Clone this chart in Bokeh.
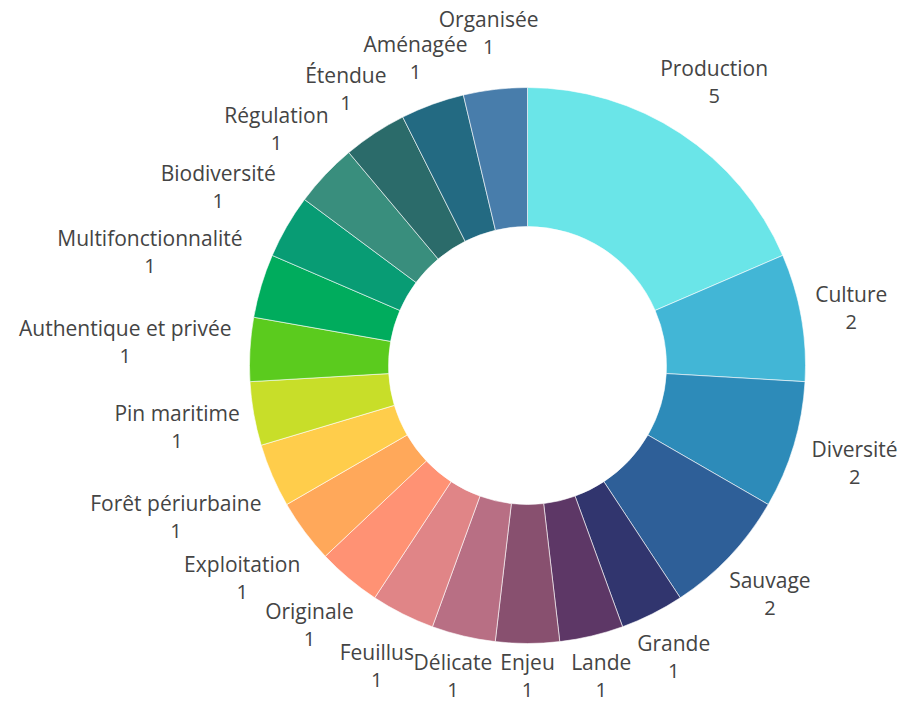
import math
from bokeh.plotting import figure
from bokeh.models import ColumnDataSource, Range1d
from bokeh.core.properties import value
from bokeh.embed import file_html
from bokeh.resources import INLINE

categories = ["Production", "Culture", "Diversité", "Sauvage", "Grande", "Lande", "Enjeu",
              "Délicate", "Feuillus", "Originale", "Exploitation", "Forêt périurbaine",
              "Pin maritime", "Authentique et privée", "Multifonctionnalité", "Biodiversité",
              "Régulation", "Étendue", "Aménagée", "Organisée"]
counts = [5, 2, 2, 2, 1, 1, 1, 1, 1, 1, 1, 1, 1, 1, 1, 1, 1, 1, 1, 1]
colors = ["#6ae5e8", "#42b6d6", "#2d8bb9", "#2e5f98", "#31356e", "#5d3766", "#88506f",
          "#b86f84", "#e08587", "#ff9274", "#ffa85a", "#ffcd4b", "#c8de29", "#5bcb1e",
          "#00ac5d", "#089c74", "#398e7d", "#2b6b6a", "#236a82", "#487dab"]

W, H = 899, 704
CX, CY = 527, 365          # centre of the donut in page pixels (from top-left)
R_OUT, R_IN = 278, 139
FS = 21
CHAR_W = 11.0
LINE = 28
FONT = "Open Sans"

total = sum(counts)
starts, ends, xs_n, ys_n, xs_v, ys_v, vals = [], [], [], [], [], [], []
boxes = []
cum = 0
y_floor = -(H - CY) + 15
for cat, c in zip(categories, counts):
    a0 = cum / total * 2 * math.pi
    a1 = (cum + c) / total * 2 * math.pi
    cum += c
    starts.append(math.pi / 2 - a0)
    ends.append(math.pi / 2 - a1)
    th = (a0 + a1) / 2
    s, co = math.sin(th), math.cos(th)
    w = CHAR_W * len(cat)
    r = R_OUT + 8 + (w / 2) * abs(s) + LINE * abs(co)
    # push outward while overlapping an already placed label
    for _ in range(60):
        lx, ly = r * s, r * co
        hit = False
        for (bx, by, bw) in boxes:
            if abs(lx - bx) < (w + bw) / 2 - 12 and abs(ly - by) < 24:
                hit = True
                break
        if not hit:
            break
        r += 1
    boxes.append((lx, ly, w))
    ly = max(ly, y_floor + LINE / 2)
    xs_n.append(lx); ys_n.append(ly + LINE / 2)
    xs_v.append(lx); ys_v.append(ly - LINE / 2)
    vals.append(str(c))

src = ColumnDataSource(dict(cat=categories, cnt=counts, color=colors,
                            start=starts, end=ends))

p = figure(width=W, height=H, output_backend="svg", toolbar_location=None,
           x_range=Range1d(-CX, W - CX), y_range=Range1d(-(H - CY), CY),
           min_border=0)
p.axis.visible = False
p.grid.visible = False
p.outline_line_color = None
p.background_fill_color = "white"

p.annular_wedge(x=0, y=0, inner_radius=R_IN, outer_radius=R_OUT,
                start_angle="start", end_angle="end", direction="clock",
                fill_color="color", line_color="white", line_width=0.6,
                source=src)

p.text(x=xs_n, y=ys_n, text=categories, text_align="center", text_baseline="middle",
       text_font=value(FONT), text_font_size=f"{FS}px", text_color="#444444")
p.text(x=xs_v, y=ys_v, text=vals, text_align="center", text_baseline="middle",
       text_font=value(FONT), text_font_size=f"{FS - 1}px", text_color="#444444")

open("out.html", "w").write(file_html(p, INLINE))
